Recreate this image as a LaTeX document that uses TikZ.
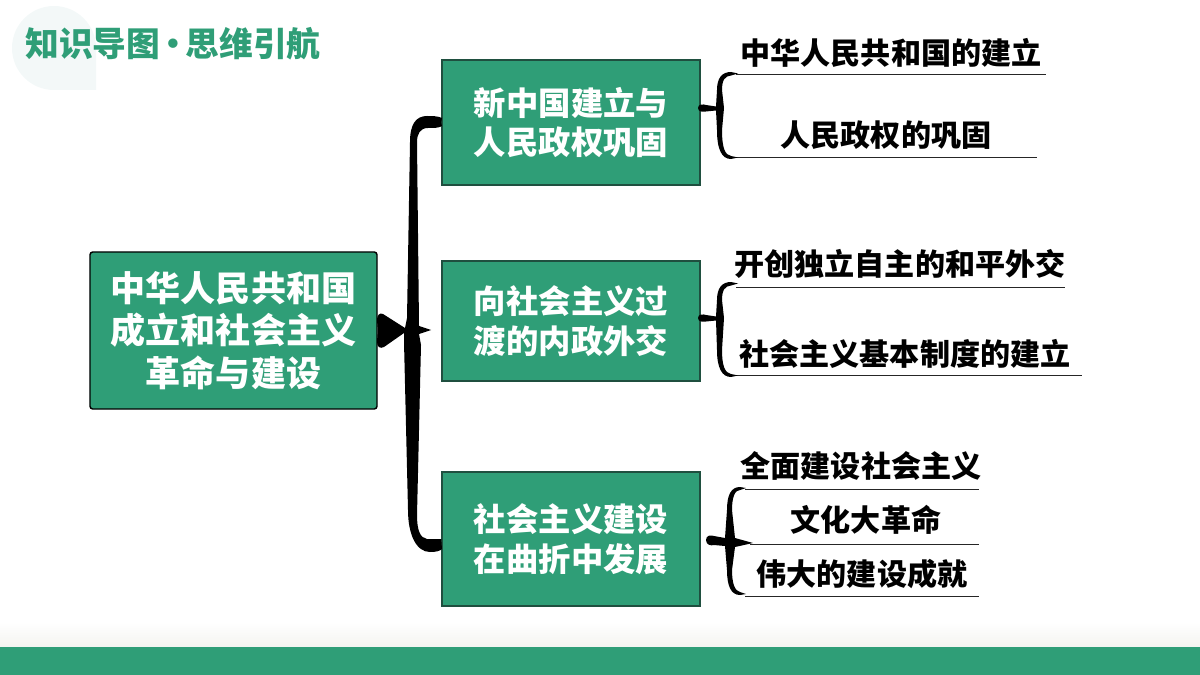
\documentclass[tikz,border=0pt]{standalone}
\usepackage{fontspec}
\setmainfont{Noto Sans CJK SC}[BoldFont={Noto Sans CJK SC Black}]
\usetikzlibrary{positioning}
\definecolor{boxgreen}{HTML}{2F9E77}
\definecolor{boxedge}{HTML}{1F4F3F}
\definecolor{paleblue}{HTML}{F3F8F8}
\definecolor{bandtop}{HTML}{F4F4F0}

\begin{document}
\begin{tikzpicture}[x=0.025cm,y=-0.025cm,
    main box/.style={rectangle,rounded corners=2pt,draw=black,line width=1pt,fill=boxgreen,
      text=white,align=center,inner sep=0pt,minimum width=7.175cm,minimum height=3.925cm,
      font=\fontsize{24.9}{30}\selectfont\bfseries},
    topic box/.style={rectangle,draw=boxedge,line width=1pt,fill=boxgreen,text=white,
      align=center,inner sep=0pt,minimum width=6.45cm,
      font=\fontsize{23}{28}\selectfont\bfseries},
    item label/.style={inner sep=0pt,font=\fontsize{21.4}{26}\selectfont\bfseries},
    under line/.style={draw=black!85,line width=0.6pt},
    brace/.style={fill=black}]
    \useasboundingbox (0,0) rectangle (1200,675);

    % Background
    \fill[paleblue] (96,90) -- (54,90) arc (90:270:42) arc (-90:0:42) -- cycle;
    \shade[top color=white,bottom color=bandtop] (0,622) rectangle (1200,647);
    \fill[boxgreen] (0,647) rectangle (1200,675);
    \node[text=boxgreen,inner sep=0pt,font=\fontsize{24}{28}\selectfont\bfseries] (title) at (173,44) {知识导图\kern-3pt·\kern-3pt 思维引航};

    % Main box and topics
    \node[main box] (main) at (233.5,330.5) {中华人民共和国\\成立和社会主义\\革命与建设};
    \node[topic box,minimum height=3cm] (box2) at (571,321) {向社会主义过\\渡的内政外交};
    \node[topic box,minimum height=3.125cm] (box1) [above of=box2,node distance=4.96cm] {新中国建立与\\人民政权巩固};
    \node[topic box,minimum height=3.35cm] (box3) [below of=box2,node distance=5.45cm] {社会主义建设\\在曲折中发展};

    % First topic items
    \node[item label] (item1) at (891,53) {中华人民共和国的建立};
    \node[item label] (item2) [below of=item1,node distance=2.05cm,xshift=-0.125cm] {人民政权的巩固};
    % Second topic items
    \node[item label] (item3) at (900,264) {开创独立自主的和平外交};
    \node[item label] (item4) [below of=item3,node distance=2.25cm,xshift=0.125cm] {社会主义基本制度的建立};
    % Third topic items
    \node[item label] (item5) at (861,466) {全面建设社会主义};
    \node[item label] (item6) [below of=item5,node distance=1.35cm,xshift=0.125cm] {文化大革命};
    \node[item label] (item7) [below of=item6,node distance=1.35cm,xshift=-0.1cm] {伟大的建设成就};

    % Line ends below the items
    \coordinate (a1) at (736,74);   \coordinate (b1) at (1046,74);
    \coordinate (a2) at (736,157);  \coordinate (b2) at (1037,157);
    \coordinate (a3) at (736,287);  \coordinate (b3) at (1065,287);
    \coordinate (a4) at (736,375);  \coordinate (b4) at (1082,375);
    \coordinate (a5) at (745,489);  \coordinate (b5) at (979,489);
    \coordinate (a6) at (750,544);  \coordinate (b6) at (979,544);
    \coordinate (a7) at (745,596);  \coordinate (b7) at (979,596);
    \foreach \n in {1,...,7}
      \draw[under line] (a\n) -- (b\n);

    % Start points of the small braces
    \coordinate (k1) at (698,108);
    \coordinate (k2) at (698,318);
    \coordinate (k3) at (706,540);

    % Big brace
    \fill[brace] (box1.west) -- (442,118) .. controls (438,116) and (432,116) .. (427,116)
      .. controls (416,116) and (410,124) .. (410,142) -- (407,318) -- (405,328)
      -- (383,314) .. controls (379,312) and (377,316) .. (377,320) -- (main.east) -- (377,342)
      .. controls (377,347) and (380,349) .. (384,347) -- (404,333) -- (404,342) -- (408,510)
      .. controls (408,534) and (416,552) .. (430,552) .. controls (436,552) and (440,551) .. (442,549)
      -- (box3.west) .. controls (438,539) and (432,539) .. (427,539)
      .. controls (420,538) and (417,530) .. (417,515) -- (421,345) -- (419,334) -- (431,330) -- (419,326)
      -- (417,142) .. controls (417,134) and (420,128) .. (428,128) .. controls (434,128) and (439,128) .. (442,126) -- cycle;

    % Small braces
    \fill[brace] (k1) .. controls (698,104) and (703,104) .. (706,105) -- (716,106.5) -- (717,90)
      .. controls (717,78) and (722,72) .. (731,72) -- (738,73.5) -- (731,75.5)
      .. controls (725,76) and (722,80) .. (722,90) -- (724,108) -- (722,130)
      .. controls (722,148) and (725,155) .. (731,156) -- (738,157.5) -- (731,159)
      .. controls (722,159) and (717,150) .. (717,130) -- (716,110.5) -- (706,111.5)
      .. controls (703,112) and (698,112) .. (k1) -- cycle;
    \fill[brace] (k2) .. controls (698,314) and (703,314) .. (706,315) -- (716,316.5) -- (717,300)
      .. controls (717,288) and (722,282) .. (731,282) -- (738,283.5) -- (731,285.5)
      .. controls (725,286) and (722,290) .. (722,300) -- (724,318) -- (722,350)
      .. controls (722,366) and (725,373) .. (731,374) -- (738,375.5) -- (731,377)
      .. controls (722,377) and (717,368) .. (717,350) -- (716,320.5) -- (706,321.5)
      .. controls (703,322) and (698,322) .. (k2) -- cycle;
    \fill[brace] (k3) .. controls (706,535) and (711,535) .. (714,536) -- (725,538) -- (727,510)
      .. controls (727,495) and (731,487) .. (740,487) -- (746,488) -- (740,490)
      .. controls (735,490) and (732,497) .. (732,510) -- (735,538) -- (753,543) -- (735,547) -- (732,570)
      .. controls (732,584) and (735,591) .. (740,592) -- (746,594) -- (740,595)
      .. controls (731,595) and (727,586) .. (727,570) -- (725,546) -- (714,545)
      .. controls (711,546) and (706,545) .. (k3) -- cycle;
\end{tikzpicture}
\end{document}
